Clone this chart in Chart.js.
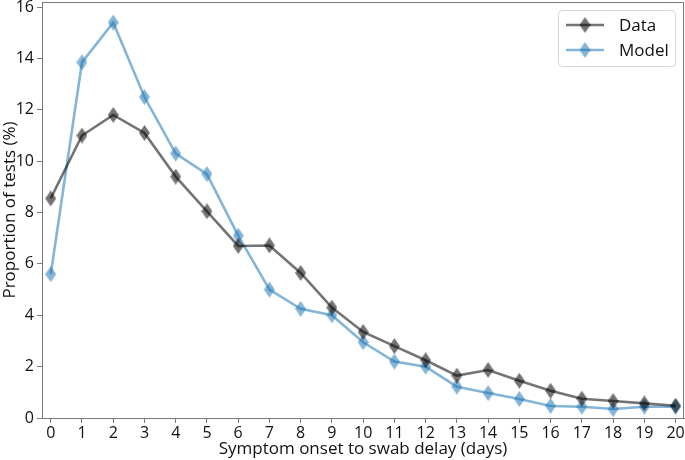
<!DOCTYPE html>
<html>
<head>
<meta charset="utf-8">
<script src="https://cdn.jsdelivr.net/npm/chart.js@4.4.0/dist/chart.umd.min.js"></script>
<style>
  html, body { margin: 0; padding: 0; background: #fff; }
  #wrap { width: 685px; height: 460px; position: relative; }
</style>
</head>
<body>
<div id="wrap"><canvas id="chart"></canvas></div>
<script>
// datos
const days = [0,1,2,3,4,5,6,7,8,9,10,11,12,13,14,15,16,17,18,19,20];
const dataValues = [8.55,11.0,11.8,11.1,9.4,8.05,6.7,6.72,5.65,4.3,3.35,2.8,2.25,1.65,1.87,1.45,1.06,0.75,0.66,0.57,0.48];
const modelValues = [5.6,13.85,15.4,12.5,10.3,9.5,7.1,5.0,4.25,4.0,2.95,2.2,2.0,1.22,0.97,0.74,0.47,0.44,0.35,0.44,0.44];
const yTicks = [0,2,4,6,8,10,12,14,16];
const seriesNames = ["Data", "Model"];

const FONT = "'Open Sans', 'DejaVu Sans', sans-serif";
const AXIS = "#7a7a7a";
const dataColor = "rgba(0,0,0,0.55)";
const modelColor = "rgba(31,119,180,0.55)";

// diamante delgado como el marcador 'd' de matplotlib
function diamond(color, w, h) {
    const c = document.createElement("canvas");
    c.width = w; c.height = h;
    const g = c.getContext("2d");
    g.fillStyle = color;
    g.beginPath();
    g.moveTo(w / 2, 0);
    g.lineTo(w, h / 2);
    g.lineTo(w / 2, h);
    g.lineTo(0, h / 2);
    g.closePath();
    g.fill();
    return c;
}

const dataMarker = diamond(dataColor, 11, 16);
const modelMarker = diamond(modelColor, 11, 16);

function toPoints(vals) {
    return days.map((d, i) => ({ x: d, y: vals[i] }));
}

// caja exterior y leyenda dibujadas a mano
const frameAndLegend = {
    id: "frameAndLegend",
    afterDraw(chart) {
        const ctx = chart.ctx;
        const a = chart.chartArea;
        ctx.save();
        ctx.strokeStyle = AXIS;
        ctx.lineWidth = 1;
        ctx.strokeRect(a.left + 0.5, a.top + 0.5, a.right - a.left - 1, a.bottom - a.top);

        // leyenda
        const bw = 117, bh = 56, r = 4;
        const bx = a.right - 9 - bw, by = a.top + 8;
        ctx.fillStyle = "rgba(255,255,255,0.8)";
        ctx.strokeStyle = "#d6d6d6";
        ctx.beginPath();
        ctx.roundRect(bx + 0.5, by + 0.5, bw, bh, r);
        ctx.fill();
        ctx.stroke();

        chart.data.datasets.forEach((ds, i) => {
            const yy = by + 15 + i * 25;
            ctx.strokeStyle = ds.borderColor;
            ctx.lineWidth = ds.borderWidth;
            ctx.beginPath();
            ctx.moveTo(bx + 8, yy);
            ctx.lineTo(bx + 46, yy);
            ctx.stroke();
            const img = ds.pointStyle;
            ctx.drawImage(img, bx + 27 - img.width / 2, yy - img.height / 2);
            ctx.fillStyle = "#111";
            ctx.font = "17px " + FONT;
            ctx.textBaseline = "middle";
            ctx.fillText(ds.label, bx + 61, yy + 1);
        });
        ctx.restore();
    }
};

new Chart(document.getElementById("chart"), {
    type: "line",
    data: {
        datasets: [
            {
                label: seriesNames[0],
                data: toPoints(dataValues),
                borderColor: dataColor,
                borderWidth: 2.6,
                pointStyle: dataMarker,
                pointRadius: 6,
                pointHoverRadius: 6,
                tension: 0
            },
            {
                label: seriesNames[1],
                data: toPoints(modelValues),
                borderColor: modelColor,
                borderWidth: 2.6,
                pointStyle: modelMarker,
                pointRadius: 6,
                pointHoverRadius: 6,
                tension: 0
            }
        ]
    },
    options: {
        responsive: true,
        maintainAspectRatio: false,
        animation: false,
        layout: { autoPadding: false, padding: { top: 2, right: 1, left: 0, bottom: 0 } },
        plugins: {
            legend: { display: false },
            tooltip: { enabled: false }
        },
        scales: {
            x: {
                type: "linear",
                min: -0.28,
                max: 20.27,
                afterBuildTicks: (s) => { s.ticks = days.map(v => ({ value: v })); },
                afterFit: (s) => { s.height = 42; s.paddingLeft = 0; s.paddingRight = 0; },
                grid: { drawOnChartArea: false, drawTicks: true, tickLength: 5, color: AXIS },
                border: { display: true, color: AXIS, width: 1 },
                ticks: { color: "#111", font: { family: FONT, size: 16 }, padding: 1, maxRotation: 0, autoSkip: false },
                title: { display: true, text: "Symptom onset to swab delay (days)", color: "#111", font: { family: FONT, size: 17 }, padding: { top: 0, bottom: 1 } }
            },
            y: {
                min: 0,
                max: 16.2,
                afterBuildTicks: (s) => { s.ticks = yTicks.map(v => ({ value: v })); },
                afterFit: (s) => { s.width = 42; s.paddingTop = 0; s.paddingBottom = 0; },
                grid: { drawOnChartArea: false, drawTicks: true, tickLength: 5, color: AXIS },
                border: { display: true, color: AXIS, width: 1 },
                ticks: { color: "#111", font: { family: FONT, size: 16 }, padding: 3 },
                title: { display: true, text: "Proportion of tests (%)", color: "#111", font: { family: FONT, size: 17 }, padding: { top: 0, bottom: 0 } }
            }
        }
    },
    plugins: [frameAndLegend]
});
</script>
</body>
</html>
